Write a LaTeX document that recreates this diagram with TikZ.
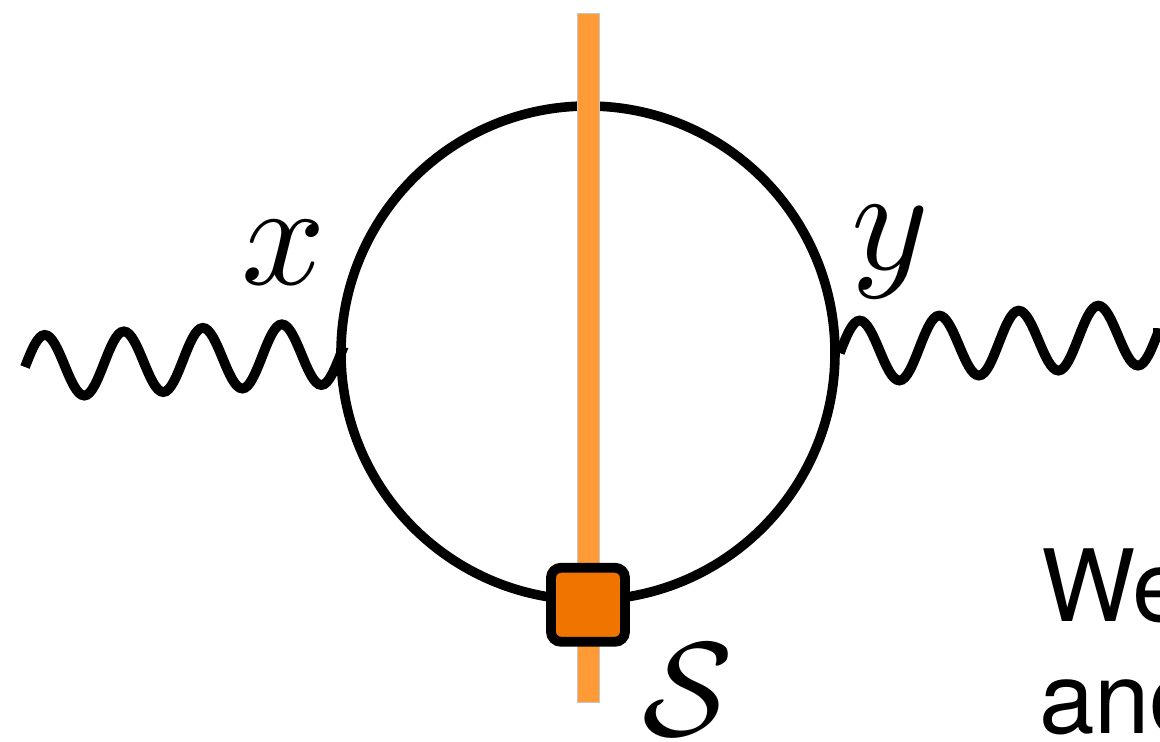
\documentclass[tikz,border=0pt]{standalone}
\usepackage{xcolor}
\usepackage{fontspec}
\newfontfamily\slidefont{TeX Gyre Heros}
\definecolor{barorange}{RGB}{255,155,55}
\definecolor{boxorange}{RGB}{240,117,0}

\begin{document}
\begin{tikzpicture}[
    wave/.style={line width=7pt},
    vertexbox/.style={draw, fill=boxorange, line width=7pt, rounded corners=0.25cm,
        minimum size=1.85cm, inner sep=0pt},
    slidetext/.style={anchor=base west, inner sep=0pt, font=\slidefont\fontsize{71}{79}\selectfont}
]
    \useasboundingbox (0,0) rectangle (29,18.525);
    \clip (0,0) rectangle (29,18.525);

    % Loop
    \node[draw, circle, line width=6.8pt, minimum size=12.35cm, inner sep=0pt] (loop) at (14.7,9.7) {};

    % Cut
    \filldraw[fill=barorange, draw=gray!45, line width=0.4pt] (14.425,0.975) rectangle (14.975,18.2);

    % Vertex
    \node[vertexbox] (vert) at (loop.south) {};

    % External legs (four periods each)
    \coordinate (lin) at (0.625,9.35);
    \coordinate (rout) at (28.825,10.2);
    \draw[wave] (lin)
        \foreach \k in {1,...,4} {
            sin ++(0.494,0.802) cos ++(0.494,-0.758) sin ++(0.494,-0.758) cos ++(0.494,0.802)
        } -- (loop.west);
    \draw[wave] (loop.east)
        \foreach \k in {1,...,4} {
            sin ++(0.497,0.811) cos ++(0.497,-0.749) sin ++(0.497,-0.749) cos ++(0.497,0.811)
        } -- (rout);

    % Labels
    \node[scale=10.5] (xlab) at (7.1,12.2) {$x$};
    \node[scale=10.5] (ylab) at (22.25,12.225) {$y$};
    \node[scale=9.5] (slab) at (17.2,1.275) {$\mathcal{S}$};

    % Text
    \node[slidetext] (txtwe) at (26.025,2.975) {We};
    \node[slidetext] (txtand) at (25.975,0.2) {and};
\end{tikzpicture}
\end{document}
